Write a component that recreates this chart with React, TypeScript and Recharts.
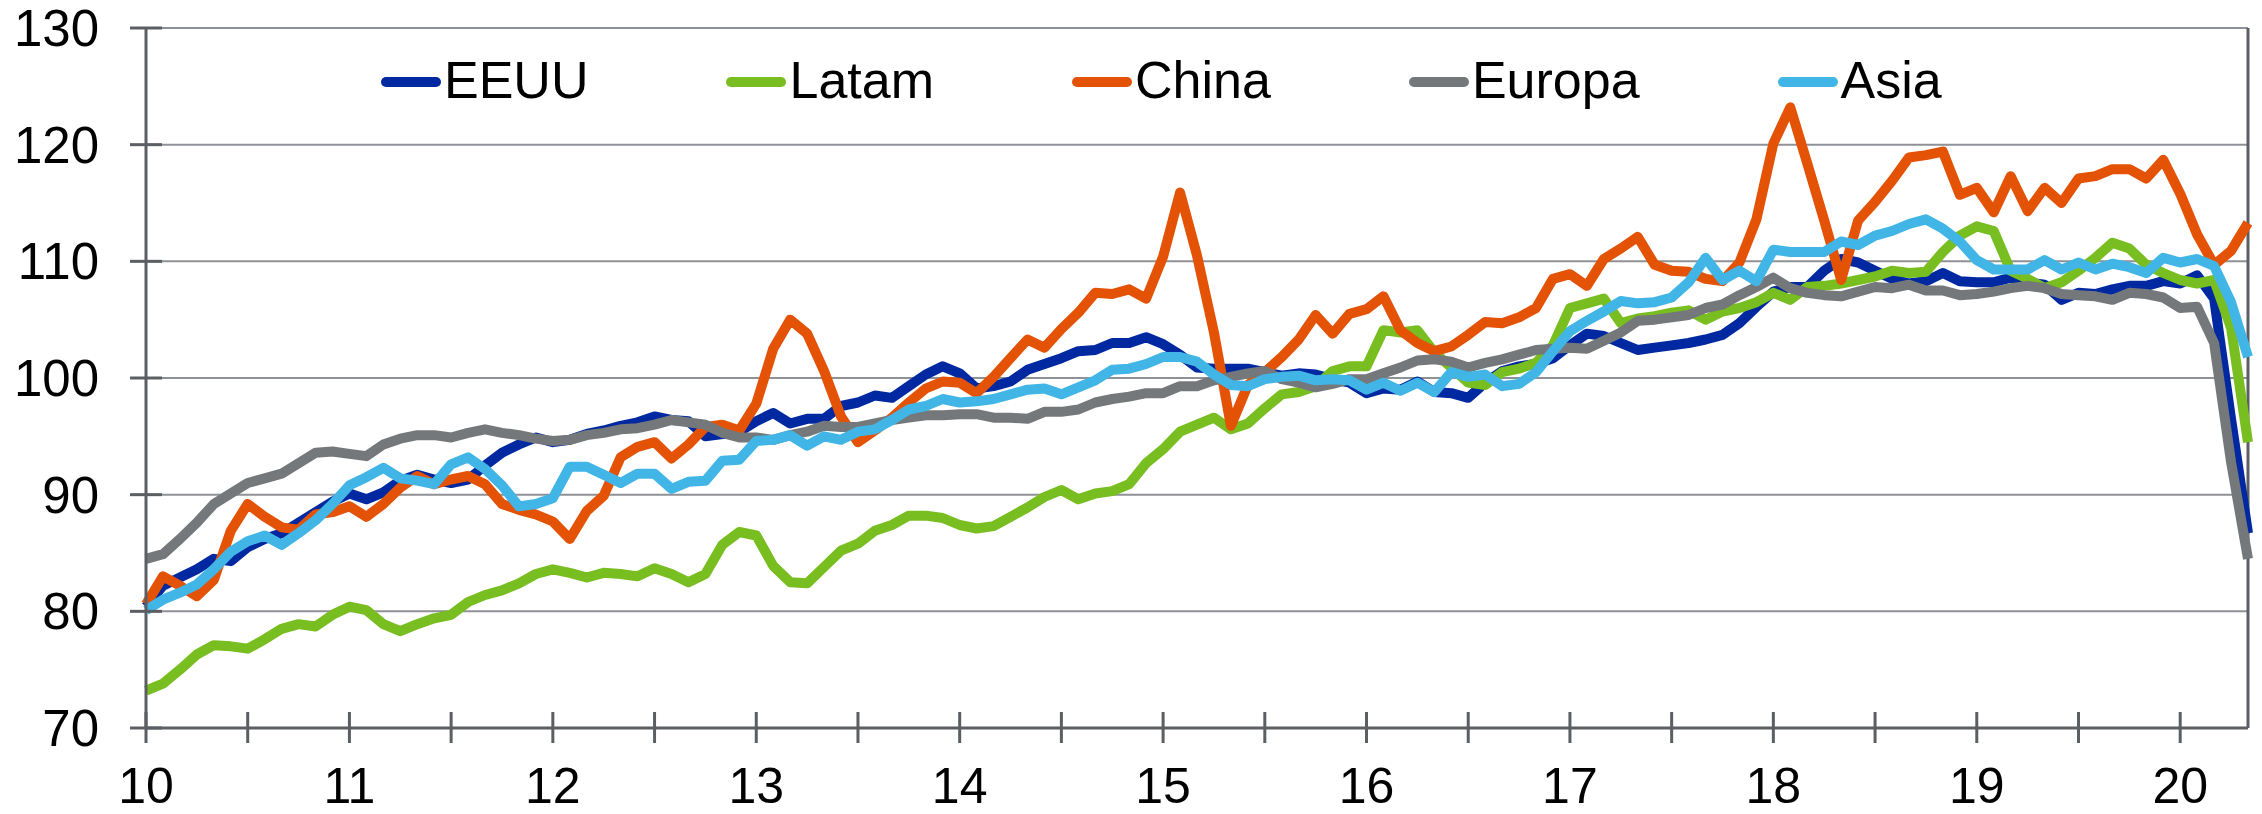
import React from 'react'
import { LineChart, Line, XAxis, YAxis, CartesianGrid, Legend, ReferenceLine } from 'recharts'

// monthly index values, Jan 2010 .. Apr 2020
const eeuu = [
  80.4, 82.2, 82.9, 83.6, 84.5, 84.3, 85.5, 86.2, 86.7, 87.6, 88.5, 89.4,
  90.1, 89.6, 90.2, 91.2, 91.7, 91.3, 91.0, 91.3, 92.5, 93.6, 94.3, 94.9,
  94.5, 94.7, 95.2, 95.5, 95.9, 96.2, 96.7, 96.4, 96.3, 95.0, 95.2, 95.4,
  96.3, 97.0, 96.1, 96.5, 96.5, 97.6, 97.9, 98.5, 98.3, 99.3, 100.3, 101.0,
  100.4, 99.1, 99.3, 99.7, 100.7, 101.2, 101.7, 102.3, 102.4, 103.0, 103.0, 103.5,
  102.9, 102.0, 100.9, 100.8, 100.8, 100.8, 100.5, 100.2, 100.4, 100.3, 99.9, 99.6,
  98.7, 99.1, 99.0, 99.7, 98.8, 98.7, 98.3, 99.6, 100.6, 101.0, 101.2, 101.7,
  102.8, 103.8, 103.6, 103.0, 102.4, 102.6, 102.8, 103.0, 103.3, 103.7, 104.7, 106.1,
  107.4, 107.8, 107.8, 109.2, 110.2, 109.9, 109.2, 108.5, 108.1, 108.3, 109.0, 108.3,
  108.2, 108.2, 108.6, 108.2, 108.0, 106.7, 107.3, 107.2, 107.6, 107.9, 107.9, 108.3,
  108.1, 108.8, 106.8, 96.5, 86.7,
]

const latam = [
  73.2, 73.8, 75.0, 76.3, 77.1, 77.0, 76.8, 77.6, 78.5, 78.9, 78.7, 79.7,
  80.4, 80.1, 78.9, 78.3, 78.9, 79.4, 79.7, 80.8, 81.4, 81.8, 82.4, 83.2,
  83.6, 83.3, 82.9, 83.3, 83.2, 83.0, 83.7, 83.2, 82.5, 83.2, 85.7, 86.8,
  86.5, 83.9, 82.5, 82.4, 83.8, 85.2, 85.8, 86.9, 87.4, 88.2, 88.2, 88.0,
  87.4, 87.1, 87.3, 88.1, 88.9, 89.8, 90.4, 89.6, 90.1, 90.3, 90.9, 92.7,
  93.9, 95.4, 96.0, 96.6, 95.6, 96.1, 97.4, 98.6, 98.8, 99.3, 100.6, 101.0,
  101.0, 104.1, 103.9, 104.1, 102.2, 100.9, 99.6, 99.4, 100.5, 100.8, 101.3, 102.8,
  106.0, 106.4, 106.8, 104.7, 105.1, 105.3, 105.6, 105.8, 105.0, 105.7, 106.0, 106.5,
  107.3, 106.7, 107.8, 107.9, 108.1, 108.4, 108.7, 109.2, 109.0, 109.1, 110.8, 112.2,
  113.0, 112.6, 109.2, 108.5, 107.7, 108.2, 109.2, 110.3, 111.6, 111.1, 109.7, 109.0,
  108.4, 108.1, 108.4, 104.3, 94.5,
]

const china = [
  80.6, 83.0, 82.2, 81.3, 82.7, 86.9, 89.2, 88.1, 87.2, 87.0, 88.3, 88.5,
  89.0, 88.1, 89.2, 90.6, 91.6, 90.9, 91.3, 91.6, 90.9, 89.2, 88.7, 88.3,
  87.7, 86.2, 88.6, 89.9, 93.2, 94.1, 94.5, 93.1, 94.3, 95.8, 96.0, 95.5,
  97.8, 102.5, 105.0, 103.8, 100.6, 96.7, 94.5, 95.5, 96.6, 97.9, 99.1, 99.7,
  99.6, 98.7, 100.1, 101.7, 103.3, 102.6, 104.2, 105.6, 107.3, 107.2, 107.6, 106.8,
  110.4, 115.9, 110.5, 103.9, 95.9, 99.4, 100.5, 101.8, 103.3, 105.4, 103.8, 105.5,
  105.9, 107.0, 104.1, 103.0, 102.3, 102.7, 103.7, 104.8, 104.7, 105.2, 106.0, 108.5,
  108.9, 107.9, 110.2, 111.1, 112.1, 109.7, 109.2, 109.1, 108.5, 108.3, 109.9, 113.6,
  120.1, 123.2, 118.4, 113.5, 108.4, 113.5, 115.1, 116.9, 118.9, 119.1, 119.4, 115.7,
  116.3, 114.2, 117.3, 114.3, 116.3, 115.0, 117.1, 117.3, 117.9, 117.9, 117.1, 118.7,
  115.8, 112.3, 109.7, 110.9, 113.3,
]

const europa = [
  84.5, 84.9, 86.2, 87.6, 89.2, 90.1, 91.0, 91.4, 91.8, 92.7, 93.6, 93.7,
  93.5, 93.3, 94.3, 94.8, 95.1, 95.1, 94.9, 95.3, 95.6, 95.3, 95.1, 94.8,
  94.6, 94.7, 95.1, 95.3, 95.6, 95.7, 96.0, 96.4, 96.2, 96.0, 95.3, 94.9,
  94.9, 94.7, 95.1, 95.4, 95.9, 95.8, 95.8, 96.1, 96.4, 96.6, 96.8, 96.8,
  96.9, 96.9, 96.6, 96.6, 96.5, 97.1, 97.1, 97.3, 97.9, 98.2, 98.4, 98.7,
  98.7, 99.3, 99.3, 99.8, 100.1, 100.4, 100.6, 99.9, 99.6, 99.2, 99.5, 99.9,
  99.9, 100.4, 100.9, 101.5, 101.6, 101.4, 100.9, 101.3, 101.6, 102.0, 102.4, 102.5,
  102.6, 102.5, 103.2, 103.9, 104.9, 105.0, 105.2, 105.4, 106.0, 106.3, 107.1, 107.8,
  108.6, 107.7, 107.3, 107.1, 107.0, 107.4, 107.8, 107.7, 108.0, 107.5, 107.5, 107.1,
  107.2, 107.4, 107.7, 107.9, 107.7, 107.2, 107.1, 107.0, 106.7, 107.3, 107.2, 106.9,
  106.0, 106.1, 103.0, 92.8, 84.5,
]

const asia = [
  80.1, 81.0, 81.6, 82.3, 83.6, 85.1, 86.0, 86.5, 85.7, 86.7, 87.8, 89.2,
  90.8, 91.5, 92.3, 91.4, 91.2, 90.9, 92.6, 93.2, 92.2, 90.8, 89.0, 89.2,
  89.7, 92.4, 92.4, 91.7, 91.0, 91.8, 91.8, 90.5, 91.1, 91.2, 92.9, 93.0,
  94.6, 94.7, 95.1, 94.2, 95.0, 94.7, 95.4, 95.6, 96.4, 97.3, 97.6, 98.2,
  97.9, 98.0, 98.2, 98.6, 99.0, 99.1, 98.6, 99.2, 99.8, 100.7, 100.8, 101.2,
  101.8, 101.8, 101.4, 100.3, 99.4, 99.3, 99.9, 100.1, 100.2, 99.8, 99.9, 99.8,
  99.0, 99.6, 98.9, 99.6, 98.8, 100.5, 100.1, 100.3, 99.3, 99.5, 100.5, 102.3,
  104.0, 104.9, 105.7, 106.6, 106.4, 106.5, 106.9, 108.2, 110.3, 108.4, 109.2, 108.3,
  111.0, 110.8, 110.8, 110.8, 111.7, 111.4, 112.2, 112.6, 113.2, 113.6, 112.8, 111.7,
  110.1, 109.3, 109.3, 109.3, 110.1, 109.3, 109.9, 109.3, 109.8, 109.5, 109.0, 110.3,
  109.9, 110.2, 109.6, 106.5, 101.8,
]

const START_YEAR = 10
const X_END = START_YEAR + (eeuu.length - 1) / 12
const X_TICKS = [10, 10.5, 11, 11.5, 12, 12.5, 13, 13.5, 14, 14.5, 15, 15.5, 16, 16.5, 17, 17.5, 18, 18.5, 19, 19.5, 20]
const Y_TICKS = [70, 80, 90, 100, 110, 120, 130]

const SERIES = [
  { key: 'EEUU', values: eeuu, color: '#0028a0' },
  { key: 'Latam', values: latam, color: '#78be20' },
  { key: 'China', values: china, color: '#e35205' },
  { key: 'Europa', values: europa, color: '#75787b' },
  { key: 'Asia', values: asia, color: '#41b6e6' },
]

const data = eeuu.map((_, i) => {
  const row: Record<string, number> = { x: START_YEAR + i / 12 }
  SERIES.forEach(s => { row[s.key] = s.values[i] })
  return row
})

const FONT = '"Liberation Sans", Arial, sans-serif'
const AXIS = '#5b5e62'
const GRID = '#8e9195'

function XTick({ x, y, payload }: any) {
  const v = payload.value
  return (
    <g>
      <line x1={x} x2={x} y1={y - 16} y2={y + 15} stroke={AXIS} strokeWidth={3} />
      {Number.isInteger(v) && (
        <text x={x} y={y + 75} textAnchor="middle" fontSize={50} fontFamily={FONT} fill="#000">
          {v}
        </text>
      )}
    </g>
  )
}

function YTick({ x, y, payload }: any) {
  return (
    <g>
      <line x1={x - 16} x2={x + 16} y1={y} y2={y} stroke={AXIS} strokeWidth={3} />
      <text x={x - 47} y={y + 18} textAnchor="end" fontSize={51} fontFamily={FONT} fill="#000">
        {payload.value}
      </text>
    </g>
  )
}

const renderLegend = () => (
  <div style={{ display: 'flex', gap: 138, fontFamily: FONT, fontSize: 52, lineHeight: '52px', color: '#000' }}>
    {SERIES.map(s => (
      <div key={s.key} style={{ display: 'flex', alignItems: 'flex-start', whiteSpace: 'nowrap' }}>
        <svg width={63} height={52}>
          <line x1={5} y1={28} x2={55} y2={28} stroke={s.color} strokeWidth={10} strokeLinecap="round" />
        </svg>
        <span>{s.key}</span>
      </div>
    ))}
  </div>
)

export default function App() {
  return (
    <div style={{ position: 'absolute', left: 0, top: 0, width: 2262, height: 814, background: '#fff' }}>
      <LineChart width={2262} height={814} data={data} margin={{ top: 28, right: 14, bottom: 0, left: 0 }}>
        <CartesianGrid horizontal vertical={false} stroke={GRID} strokeWidth={2} />
        <XAxis
          type="number"
          dataKey="x"
          domain={[START_YEAR, X_END]}
          ticks={X_TICKS}
          interval={0}
          height={86}
          axisLine={{ stroke: AXIS, strokeWidth: 3 }}
          tickLine={false}
          tickSize={0}
          tickMargin={0}
          tick={<XTick />}
        />
        <YAxis
          type="number"
          domain={[70, 130]}
          ticks={Y_TICKS}
          interval={0}
          width={146}
          axisLine={{ stroke: AXIS, strokeWidth: 3 }}
          tickLine={false}
          tickSize={0}
          tickMargin={0}
          tick={<YTick />}
        />
        <ReferenceLine x={X_END} stroke={AXIS} strokeWidth={3} />
        {SERIES.map(s => (
          <Line
            key={s.key}
            type="linear"
            dataKey={s.key}
            stroke={s.color}
            strokeWidth={10}
            strokeLinejoin="round"
            dot={false}
            activeDot={false}
            isAnimationActive={false}
          />
        ))}
        <Legend
          verticalAlign="middle"
          align="center"
          layout="horizontal"
          wrapperStyle={{ top: 54, left: 381, width: 'auto', height: 52 }}
          content={renderLegend}
        />
      </LineChart>
    </div>
  )
}
